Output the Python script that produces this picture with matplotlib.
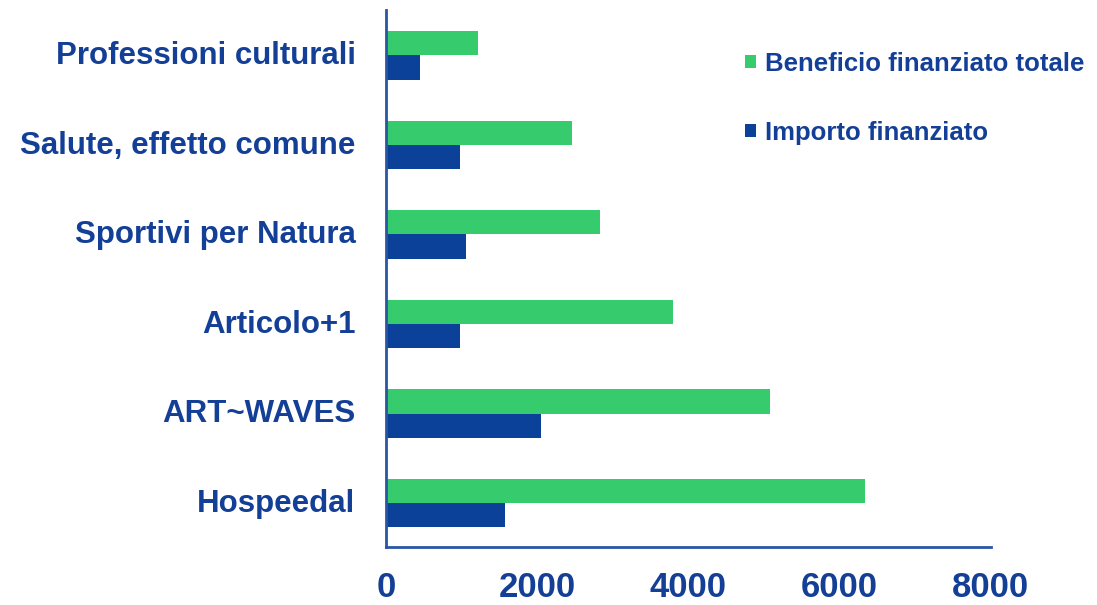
import matplotlib.pyplot as plt
import numpy as np

# categories from bottom to top
progetti = ["Hospeedal", "ART~WAVES", "Articolo+1", "Sportivi per Natura",
            "Salute, effetto comune", "Professioni culturali"]
beneficio_totale = [6340, 5080, 3790, 2830, 2460, 1210]
importo_finanziato = [1570, 2050, 980, 1060, 980, 450]
ticks_x = [0, 2000, 4000, 6000, 8000]

verde = "#36cc6e"
blu = "#0b4199"
testo = "#143f96"

fig = plt.figure(figsize=(10.97, 6.05), dpi=100)
ax = fig.add_axes([0.352, 0.096, 0.551, 0.888])

y = np.arange(len(progetti))
h = 0.27
ax.barh(y + h / 2, beneficio_totale, height=h, color=verde,
        label="Beneficio finanziato totale")
ax.barh(y - h / 2, importo_finanziato, height=h, color=blu,
        label="Importo finanziato")

ax.set_xlim(0, 8000)
ax.set_ylim(-0.49, 5.51)
ax.set_yticks(y + 0.03)
ax.set_yticklabels(progetti, fontsize=22.5, fontweight="bold", color=testo,
                   family="Liberation Sans")
ax.set_xticks(ticks_x)
ax.set_xticklabels([str(t) for t in ticks_x], fontsize=25, fontweight="bold",
                   color=testo, family="Liberation Sans")
ax.tick_params(axis="y", length=0, pad=22)
ax.tick_params(axis="x", length=0, pad=17)

for s in ["top", "right"]:
    ax.spines[s].set_visible(False)
for s in ["left", "bottom"]:
    ax.spines[s].set_color("#2a55a5")
    ax.spines[s].set_linewidth(2)

leg = ax.legend(loc="upper left", bbox_to_anchor=(0.555, 0.965), frameon=False,
                handlelength=0.45, handleheight=0.45, handletextpad=0.35,
                labelspacing=1.75,
                prop={"family": "Liberation Sans", "weight": "bold", "size": 18.5})
for t in leg.get_texts():
    t.set_color(testo)

plt.savefig("out.png", dpi=100)
